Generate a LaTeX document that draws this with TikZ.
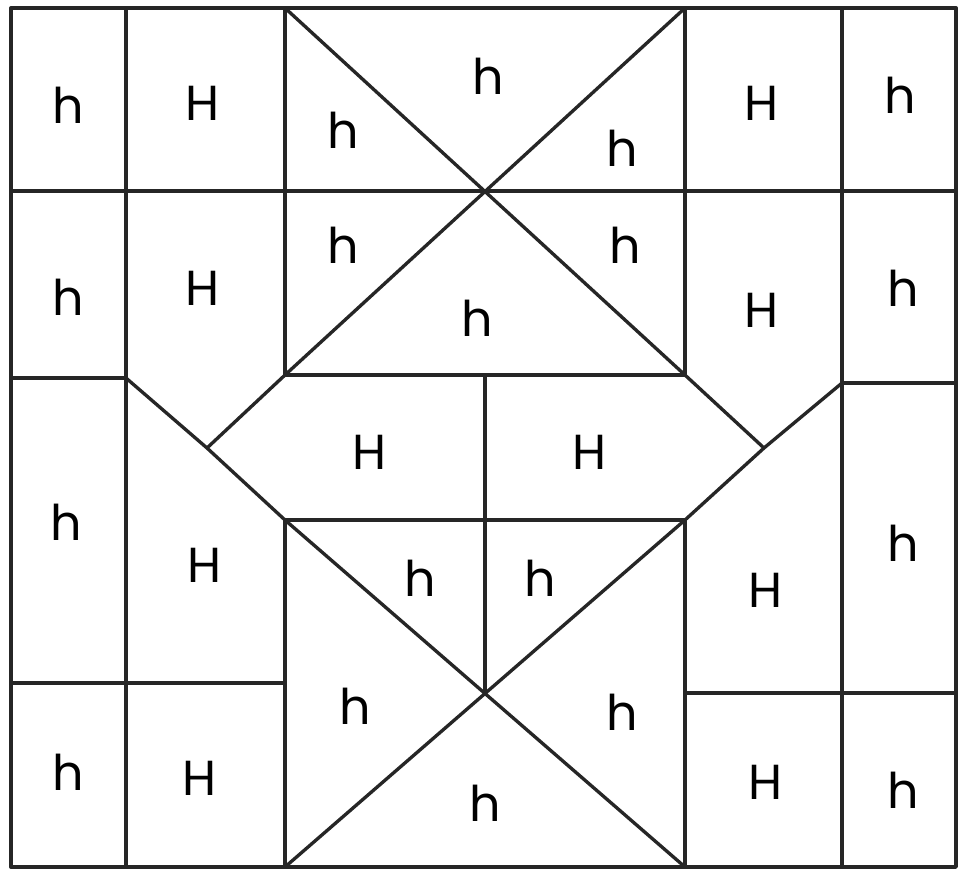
\documentclass[tikz,border=0pt]{standalone}
\usepackage{fontspec}
\setmainfont{Poppins}
\usepackage{tikz}

\begin{document}
\begin{tikzpicture}[
    x=0.02cm, y=-0.02cm,
    seam/.style={line width=1.9pt, draw=black!85, line cap=round, line join=round},
    lbl/.style={font=\fontsize{28}{28}\selectfont, inner sep=0pt}
  ]
    \useasboundingbox (0,0) rectangle (958,870);
    \fill[white] (0,0) rectangle (958,870);

    % corners and seam points
    \coordinate (nw) at (11,8);
    \coordinate (se) at (956,867);
    \coordinate (ta) at (285,8);
    \coordinate (tb) at (685,8);
    \coordinate (xa) at (285,375);
    \coordinate (xb) at (685,375);
    \coordinate (ya) at (285,520);
    \coordinate (yb) at (685,520);
    \coordinate (ba) at (285,867);
    \coordinate (bb) at (685,867);
    \coordinate (ml) at (126,378);
    \coordinate (mr) at (842,383);
    \coordinate (pl) at (207,448);
    \coordinate (pr) at (764,448);
    \coordinate (cu) at (485,375);
    \coordinate (cd) at (485,693);

    % frame and columns
    \draw[seam] (nw) rectangle (se);
    \draw[seam] (126,8) -- (126,867);
    \draw[seam] (842,8) -- (842,867);
    \draw[seam] (11,191) -- (956,191);
    \draw[seam] (ta) -- (xa);
    \draw[seam] (tb) -- (xb);
    \draw[seam] (ya) -- (ba);
    \draw[seam] (yb) -- (bb);
    \draw[seam] (11,378) -- (ml);
    \draw[seam] (mr) -- (956,383);
    \draw[seam] (11,683) -- (285,683);
    \draw[seam] (685,693) -- (956,693);

    % hexagon
    \draw[seam] (xa) -- (xb);
    \draw[seam] (ya) -- (yb);
    \draw[seam] (ml) -- (pl) -- (ya);
    \draw[seam] (pl) -- (xa);
    \draw[seam] (mr) -- (pr) -- (yb);
    \draw[seam] (pr) -- (xb);
    \draw[seam] (cu) -- (cd);

    % crosses
    \draw[seam] (ta) -- (xb);
    \draw[seam] (tb) -- (xa);
    \draw[seam] (ya) -- (bb);
    \draw[seam] (yb) -- (ba);

    % row 1
    \node[lbl] (h1) at (68,105) {h};
    \node[lbl] (H1) at (203,103) {H};
    \node[lbl] (h2) at (488,76) {h};
    \node[lbl] (h3) at (343,130) {h};
    \node[lbl] (h4) at (622,148) {h};
    \node[lbl] (H2) at (762,103) {H};
    \node[lbl] (h5) at (900,95) {h};
    % row 2
    \node[lbl] (h6) at (68,297) {h};
    \node[lbl] (H3) at (203,288) {H};
    \node[lbl] (h7) at (343,245) {h};
    \node[lbl] (h8) at (625,245) {h};
    \node[lbl] (h9) at (477,318) {h};
    \node[lbl] (H4) at (762,310) {H};
    \node[lbl] (h10) at (903,288) {h};
    % row 3
    \node[lbl] (h11) at (66,522) {h};
    \node[lbl] (H5) at (370,452) {H};
    \node[lbl] (H6) at (590,452) {H};
    \node[lbl] (H7) at (205,565) {H};
    \node[lbl] (h12) at (420,578) {h};
    \node[lbl] (h13) at (540,578) {h};
    \node[lbl] (H8) at (766,590) {H};
    \node[lbl] (h14) at (903,543) {h};
    % row 4
    \node[lbl] (h15) at (355,706) {h};
    \node[lbl] (h16) at (622,712) {h};
    \node[lbl] (h17) at (485,803) {h};
    \node[lbl] (h18) at (68,772) {h};
    \node[lbl] (H9) at (200,778) {H};
    \node[lbl] (H10) at (766,782) {H};
    \node[lbl] (h19) at (903,790) {h};
  \end{tikzpicture}
\end{document}
